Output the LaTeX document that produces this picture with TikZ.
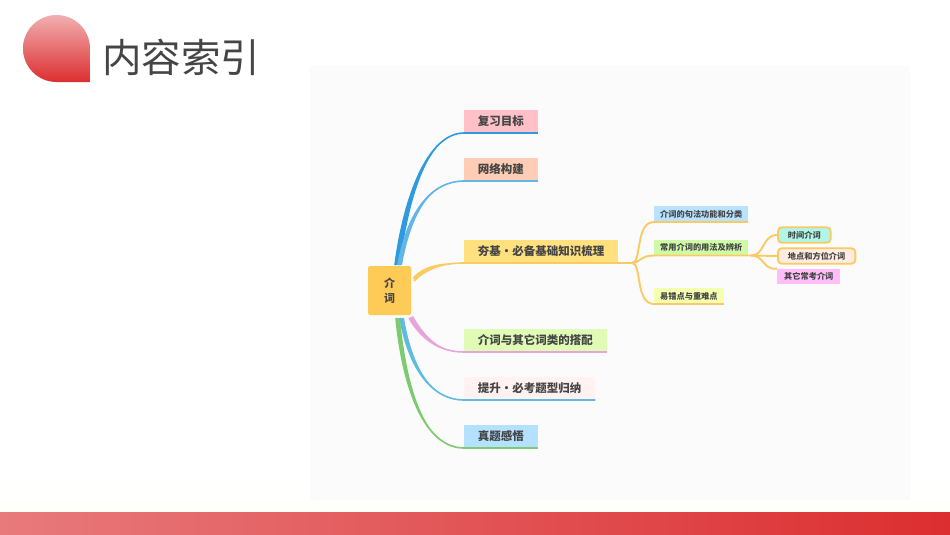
\documentclass[tikz,border=0pt]{standalone}
\usepackage{fontspec}
\setmainfont{Noto Sans CJK SC}
\usetikzlibrary{calc}
\definecolor{inkgray}{HTML}{454545}
\definecolor{rootgold}{HTML}{FFCB57}
\definecolor{twiggold}{HTML}{F9CB62}
\definecolor{barred}{HTML}{DC2E30}
\definecolor{barpink}{HTML}{E87A7C}
\definecolor{panelgray}{HTML}{FBFBFB}
\definecolor{goalfill}{HTML}{FFC0C8}
\definecolor{netfill}{HTML}{FFCDB5}
\definecolor{basefill}{HTML}{FFE07F}
\definecolor{pairfill}{HTML}{E0FBB5}
\definecolor{liftfill}{HTML}{FFF2F0}
\definecolor{realfill}{HTML}{B3E1FF}
\definecolor{syntaxfill}{HTML}{B8E2FF}
\definecolor{usagefill}{HTML}{CFFBA8}
\definecolor{errsfill}{HTML}{F5FFB0}
\definecolor{timefill}{HTML}{B0F5E5}
\definecolor{placefill}{HTML}{FFEBE0}
\definecolor{otherfill}{HTML}{FFBDFA}
\definecolor{goalline}{HTML}{2E9BE0}
\definecolor{netline}{HTML}{62B6E6}
\definecolor{pairline}{HTML}{E8A5DC}
\definecolor{liftline}{HTML}{5FBBE0}
\definecolor{realline}{HTML}{7DCB70}

% one tapered branch: colour, root side, taper, bend 1, bend 2, target node
\newcommand{\branch}[6]{
  \fill[#1] (#2) .. controls #4 and #5 .. (#6.south west)
    .. controls #5 and ($#4+#3$) .. ($(#2)+#3$) -- cycle;
  \draw[#1,line width=1.6pt] (#2) .. controls #4 and #5 .. (#6.south west) -- (#6.south east);
}

\begin{document}
\begin{tikzpicture}[x=1pt,y=-1pt,
    root node/.style={rounded corners=1.5pt,fill=rootgold,text=inkgray,align=center,
      font=\fontsize{11}{15}\selectfont\bfseries,minimum width=43pt,minimum height=49pt,inner sep=0pt},
    main node/.style={anchor=south west,text=inkgray,inner xsep=13.7pt,inner ysep=0pt,
      minimum height=23pt,font=\fontsize{11.5}{14}\selectfont\bfseries},
    sub node/.style={anchor=south west,text=inkgray,inner xsep=6pt,inner ysep=0pt,
      minimum height=15.5pt,font=\fontsize{8.2}{10}\selectfont\bfseries},
    leaf node/.style={anchor=west,text=inkgray,inner xsep=10pt,inner ysep=0pt,
      minimum height=15.5pt,font=\fontsize{8.2}{10}\selectfont\bfseries},
    ring node/.style={leaf node,draw=twiggold,line width=1.9pt,rounded corners=4pt},
    twig/.style={draw=twiggold,line width=1.9pt}]

  \useasboundingbox (0,0) rectangle (950,535);
  \fill[white] (0,0) rectangle (950,535);
  \shade[top color=white,bottom color=white!97!yellow] (0,490) rectangle (950,512);
  \fill[panelgray] (310,66) rectangle (910,500);
  \shade[left color=barpink,right color=barred] (0,512) rectangle (950,535);

  % title
  \shade[top color=barpink!60!white,bottom color=barred]
    (90,82) -- (56.5,82) .. controls (38,82) and (23,67) .. (23,48.5)
    .. controls (23,30) and (38,15) .. (56.5,15)
    .. controls (75,15) and (90,30) .. (90,48.5) -- cycle;
  \node[anchor=west,inner sep=0pt,text=inkgray,font=\fontsize{39.5}{40}\selectfont] (title)
    at (102,57) {内容索引};

  \node[root node] (root) at (389.5,290.5) {介\\词};

  \node[main node,fill=goalfill] (goal) at (464,133) {复习目标};
  \node[main node,fill=netfill] (net) at (464,181) {网络构建};
  \node[main node,fill=basefill] (base) at (464,263) {夯基•必备基础知识梳理};
  \node[main node,fill=pairfill] (pair) at (464,352) {介词与其它词类的搭配};
  \node[main node,fill=liftfill] (lift) at (464,400) {提升•必考题型归纳};
  \node[main node,fill=realfill] (real) at (464,448) {真题感悟};

  \node[sub node,fill=syntaxfill] (syntax) at (654,222) {介词的句法功能和分类};
  \node[sub node,fill=usagefill] (usage) at (654,255.5) {常用介词的用法及辨析};
  \node[sub node,fill=errsfill] (errs) at (654,304) {易错点与重难点};

  \node[ring node,fill=timefill] (time) at (777,235) {时间介词};
  \node[ring node,fill=placefill] (place) at (777,256) {地点和方位介词};
  \node[leaf node,fill=otherfill,inner xsep=7pt] (other) at (777,276.5) {其它常考介词};

  % branches
  \branch{goalline}{395,265}{(5,0)}{(405,190)}{(430,133)}{goal}
  \branch{netline}{398,265}{(4,0)}{(408,210)}{(432,181)}{net}
  \branch{twiggold}{414,281}{(-1,-4)}{(428,267)}{(445,263)}{base}
  \branch{pairline}{409,318}{(4,-2)}{(422,340)}{(440,352)}{pair}
  \branch{liftline}{400,318}{(4,0)}{(408,365)}{(430,400)}{lift}
  \branch{realline}{396,318}{(4,0)}{(403,390)}{(425,448)}{real}

  \coordinate (fork) at (632,263);
  \coordinate (hub) at (751,255.5);
  \path[twig] (base.south east) -- (fork);
  \path[twig] (fork) .. controls (642,263) and (635,222) .. (syntax.south west) -- (syntax.south east);
  \path[twig] (fork) .. controls (640,263) and (640,255.5) .. (usage.south west) -- (hub);
  \path[twig] (fork) .. controls (642,263) and (635,304) .. (errs.south west) -- (errs.south east);
  \path[twig] (hub) .. controls (765,255.5) and (762,235) .. (time.west);
  \path[twig] (hub) -- (place.west);
  \path[twig] (hub) .. controls (765,255.5) and (762,270) .. (other.north west);
\end{tikzpicture}
\end{document}
